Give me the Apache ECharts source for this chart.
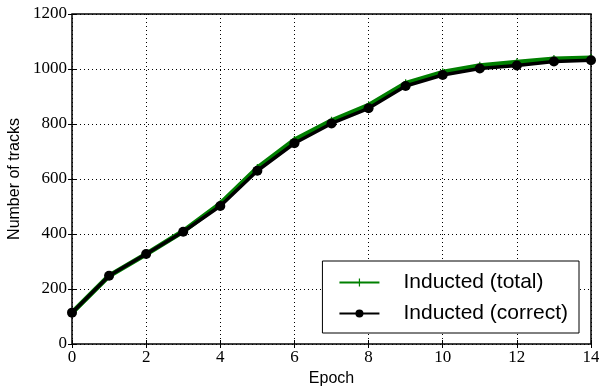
<!DOCTYPE html>
<html>
<head>
<meta charset="utf-8">
<script src="https://cdn.jsdelivr.net/npm/echarts@6/dist/echarts.min.js"></script>
<style>
  html, body { margin: 0; padding: 0; background: #fff; }
  #chart { width: 599px; height: 388px; }
</style>
</head>
<body>
<div id="chart"></div>
<script>
const epochs = [0, 1, 2, 3, 4, 5, 6, 7, 8, 9, 10, 11, 12, 13, 14];
const inductedTotal = [114, 248, 327, 410, 510, 640, 742, 812, 868, 948, 988, 1012, 1025, 1036, 1040];
const inductedCorrect = [114, 248, 327, 408, 502, 630, 730, 802, 857, 938, 978, 1002, 1013, 1027, 1032];

const serif = "Liberation Serif";
const sans = "Liberation Sans";

const chart = echarts.init(document.getElementById("chart"));

const dotted = { color: "#000", type: [1, 3], width: 1 };

const option = {
  animation: false,
  grid: {
    left: 72,
    right: 8,
    top: 14,
    bottom: 44,
    show: true,
    borderColor: "#000",
    borderWidth: 1.5,
    outerBoundsMode: "none",
    containLabel: false,
  },
  legend: {
    right: 20,
    bottom: 55,
    orient: "vertical",
    backgroundColor: "#fff",
    borderColor: "#000",
    borderWidth: 1,
    padding: [11, 11, 9, 16],
    itemGap: 10,
    itemWidth: 40,
    itemHeight: 10,
    textStyle: { fontFamily: sans, fontSize: 21, color: "#000", padding: [0, 0, 0, 19] },
    data: ["Inducted (total)", "Inducted (correct)"],
  },
  xAxis: [
    {
      type: "value",
      min: 0,
      max: 14,
      interval: 2,
      name: "Epoch",
      nameLocation: "middle",
      nameGap: 26,
      nameTextStyle: { fontFamily: sans, fontSize: 16, color: "#000" },
      axisLine: { show: false },
      axisTick: { inside: true, length: 4, lineStyle: { color: "#000" } },
      axisLabel: { fontFamily: serif, fontSize: 17, color: "#000", margin: 5 },
      splitLine: { show: true, lineStyle: dotted },
    },
    {
      type: "value",
      position: "top",
      min: 0,
      max: 14,
      interval: 2,
      axisLine: { show: false },
      axisTick: { inside: true, length: 4, lineStyle: { color: "#000" } },
      axisLabel: { show: false },
      splitLine: { show: false },
    },
  ],
  yAxis: [
    {
      type: "value",
      min: 0,
      max: 1200,
      interval: 200,
      name: "Number of tracks",
      nameLocation: "middle",
      nameGap: 42,
      nameTextStyle: { fontFamily: sans, fontSize: 16, color: "#000" },
      axisLine: { show: false },
      axisTick: { inside: true, length: 4, lineStyle: { color: "#000" } },
      axisLabel: { fontFamily: serif, fontSize: 17, color: "#000", margin: 5, formatter: (v) => String(v) },
      splitLine: { show: true, lineStyle: dotted },
    },
    {
      type: "value",
      position: "right",
      min: 0,
      max: 1200,
      interval: 200,
      axisLine: { show: false },
      axisTick: { inside: true, length: 4, lineStyle: { color: "#000" } },
      axisLabel: { show: false },
      splitLine: { show: false },
    },
  ],
  series: [
    {
      name: "Inducted (total)",
      type: "line",
      data: epochs.map((e, i) => [e, inductedTotal[i]]),
      lineStyle: { color: "#008000", width: 5 },
      itemStyle: { color: "#008000" },
      symbol: "path://M3.4,0h1.2v8h-1.2zM0,3.4h8v1.2h-8z",
      symbolSize: 8,
      z: 2,
    },
    {
      name: "Inducted (correct)",
      type: "line",
      data: epochs.map((e, i) => [e, inductedCorrect[i]]),
      lineStyle: { color: "#000", width: 3.5 },
      itemStyle: { color: "#000" },
      symbol: "circle",
      symbolSize: 10,
      z: 3,
    },
  ],
};

chart.setOption(option);
</script>
</body>
</html>
